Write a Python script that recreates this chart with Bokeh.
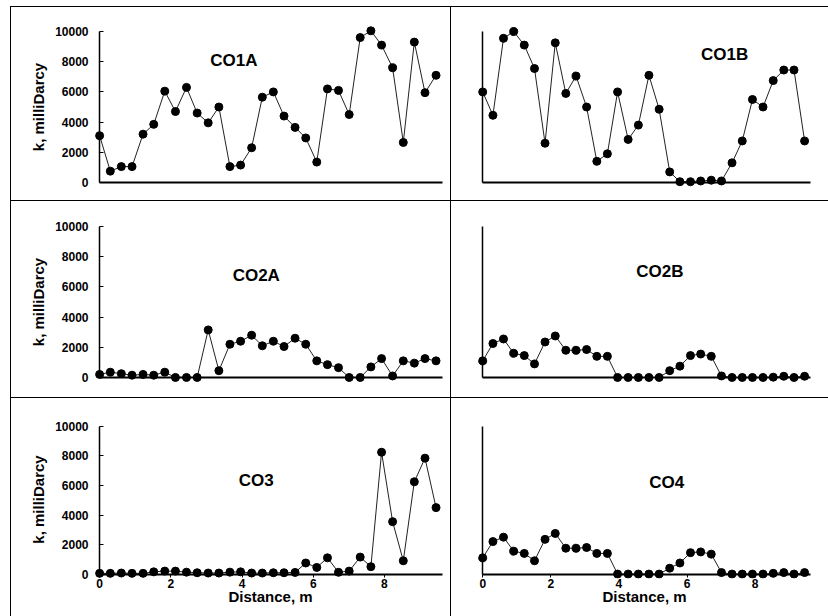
from bokeh.plotting import figure
from bokeh.models import Range1d, FixedTicker, Label, Spacer, LinearAxis
from bokeh.layouts import row, column
from bokeh.embed import file_html
from bokeh.resources import INLINE

# ---- data -----------------------------------------------------------------
distance = [0.0, 0.30, 0.61, 0.91, 1.22, 1.52, 1.83, 2.13, 2.44, 2.74, 3.05,
            3.35, 3.66, 3.96, 4.27, 4.57, 4.88, 5.18, 5.49, 5.79, 6.10, 6.40,
            6.71, 7.01, 7.32, 7.62, 7.92, 8.23, 8.53, 8.84, 9.14, 9.45]

co1a = [3100, 750, 1050, 1050, 3200, 3850, 6050, 4700, 6300, 4600, 3950, 5000,
        1050, 1150, 2300, 5650, 6000, 4400, 3650, 2950, 1350, 6200, 6100, 4500,
        9600, 10050, 9100, 7600, 2650, 9300, 5950, 7100]
co1b = [6000, 4450, 9550, 10000, 9100, 7550, 2600, 9250, 5900, 7050, 5000, 1400,
        1900, 6000, 2850, 3800, 7100, 4850, 700, 50, 50, 100, 150, 100,
        1300, 2750, 5500, 5000, 6750, 7450, 7450, 2750]
co2a = [200, 350, 250, 150, 200, 150, 350, 0, 0, 0, 3150, 450,
        2200, 2400, 2800, 2100, 2400, 2050, 2600, 2200, 1100, 850, 650, 0,
        0, 700, 1250, 100, 1100, 950, 1250, 1100]
co2b = [1100, 2250, 2550, 1600, 1450, 900, 2350, 2750, 1800, 1800, 1850, 1400,
        1400, 0, 0, 0, 0, 0, 450, 750, 1450, 1550, 1400, 100,
        0, 0, 0, 0, 20, 80, 0, 80]
co3 = [50, 50, 70, 50, 50, 150, 200, 200, 130, 90, 70, 70,
       130, 150, 70, 70, 90, 90, 110, 750, 450, 1100, 120, 200,
       1150, 500, 8250, 3550, 900, 6250, 7850, 4500]
co4 = [1100, 2200, 2500, 1550, 1400, 900, 2350, 2750, 1750, 1750, 1800, 1400,
       1400, 0, 0, 0, 0, 0, 400, 750, 1450, 1500, 1350, 100,
       0, 0, 0, 0, 50, 100, 0, 100]

panel_names = ["CO1A", "CO1B", "CO2A", "CO2B", "CO3", "CO4"]
y_ticks = [0, 2000, 4000, 6000, 8000, 10000]
x_ticks = [0, 2, 4, 6, 8]
y_title = "k, milliDarcy"
x_title = "Distance, m"

FONT = "Liberation Sans"

# ---- layout geometry ------------------------------------------------------
ROWS = [dict(h=193, top=18, bottom=12, yr=(-400, 10400)),
        dict(h=196, top=19, bottom=14, yr=(-400, 10400)),
        dict(h=218, top=22, bottom=38, yr=(-300, 10400))]
COLS = [dict(w=439, left=81, right=2, xr=(-0.2, 9.8)),
        dict(w=377, left=21, right=12, xr=(-0.3, 9.8))]
TITLE_POS = [(3.77, 8080), (7.1, 8490), (4.4, 6735), (5.2, 7040), (4.4, 6350), (5.4, 6200)]
X_BOUNDS = (0, 9.62)
Y_BOUNDS = (0, 10000)


def bold_text(axis, size_ticks="12px", size_title="15px"):
    axis.major_label_text_font = FONT
    axis.major_label_text_font_style = "bold"
    axis.major_label_text_font_size = size_ticks
    axis.major_label_text_color = "black"
    axis.axis_label_text_font = FONT
    axis.axis_label_text_font_style = "bold"
    axis.axis_label_text_font_size = size_title
    axis.axis_label_text_color = "black"


def make_panel(idx, values):
    ri, ci = divmod(idx, 2)
    r, c = ROWS[ri], COLS[ci]
    p = figure(width=c["w"], height=r["h"], output_backend="svg", toolbar_location=None,
               x_range=Range1d(*c["xr"]), y_range=Range1d(*r["yr"]),
               min_border_left=c["left"], min_border_right=c["right"],
               min_border_top=r["top"], min_border_bottom=r["bottom"])
    p.outline_line_color = None
    p.background_fill_color = "white"
    p.border_fill_color = "white"
    p.xgrid.visible = False
    p.ygrid.visible = False

    # ---- x axis ----
    xa = p.xaxis[0]
    xa.minor_tick_line_color = None
    if ri == 2:
        # label axis at the frame edge (no line), plus a line axis fixed at y = 0
        xa.ticker = FixedTicker(ticks=x_ticks)
        xa.axis_line_color = None
        xa.major_tick_line_color = None
        xa.major_tick_in = 0
        xa.major_tick_out = 0
        xa.major_label_standoff = 0
        xa.axis_label = x_title
        xa.axis_label_standoff = -3
        bold_text(xa)
        xline = LinearAxis(fixed_location=0, bounds=X_BOUNDS, ticker=FixedTicker(ticks=x_ticks),
                           axis_line_width=2, axis_line_color="black",
                           major_tick_in=0, major_tick_out=3, major_tick_line_color="black",
                           minor_tick_line_color=None, major_label_text_color=None)
        p.add_layout(xline, "below")
    else:
        xa.fixed_location = 0
        xa.bounds = X_BOUNDS
        xa.ticker = FixedTicker(ticks=[])
        xa.axis_line_width = 2
        xa.axis_line_color = "black"
        xa.major_tick_in = 0
        xa.major_tick_out = 0
        xa.major_label_text_color = None

    # ---- y axis ----
    ya = p.yaxis[0]
    ya.minor_tick_line_color = None
    if ci == 0:
        ya.ticker = FixedTicker(ticks=y_ticks)
        ya.axis_line_color = None
        ya.major_tick_line_color = None
        ya.major_tick_in = 0
        ya.major_tick_out = 0
        ya.major_label_standoff = 4
        ya.axis_label = y_title
        ya.axis_label_standoff = 5
        bold_text(ya)
        yline = LinearAxis(fixed_location=0, bounds=Y_BOUNDS, ticker=FixedTicker(ticks=y_ticks),
                           axis_line_width=1.5, axis_line_color="black",
                           major_tick_in=4, major_tick_out=0, major_tick_line_color="black",
                           minor_tick_line_color=None, major_label_text_color=None)
        p.add_layout(yline, "left")
    else:
        ya.fixed_location = 0
        ya.bounds = Y_BOUNDS
        ya.ticker = FixedTicker(ticks=[])
        ya.axis_line_width = 1.5
        ya.axis_line_color = "black"
        ya.major_tick_in = 0
        ya.major_tick_out = 0
        ya.major_label_text_color = None

    p.line(distance, values, line_color="#222222", line_width=1)
    p.scatter(distance, values, size=8, fill_color="black", line_color="black")

    tx, ty = TITLE_POS[idx]
    p.add_layout(Label(x=tx, y=ty, text=panel_names[idx], text_align="center",
                       text_baseline="middle", text_font=FONT, text_font_style="bold",
                       text_font_size="17px", text_color="black"))
    return p


series = [co1a, co1b, co2a, co2b, co3, co4]
figs = [make_panel(i, s) for i, s in enumerate(series)]


def vline(h):
    return Spacer(width=1, height=h, styles={"background-color": "black"})


def hline(w):
    return Spacer(width=w, height=1, styles={"background-color": "black"})


grid = column(
    row(figs[0], vline(ROWS[0]["h"]), figs[1]),
    hline(817),
    row(figs[2], vline(ROWS[1]["h"]), figs[3]),
    hline(817),
    row(figs[4], vline(ROWS[2]["h"]), figs[5]),
)

page = column(
    Spacer(width=828, height=6),
    row(Spacer(width=10, height=1), hline(818)),
    row(Spacer(width=10, height=609), vline(609), grid),
)

open("out.html", "w").write(file_html(page, INLINE))
